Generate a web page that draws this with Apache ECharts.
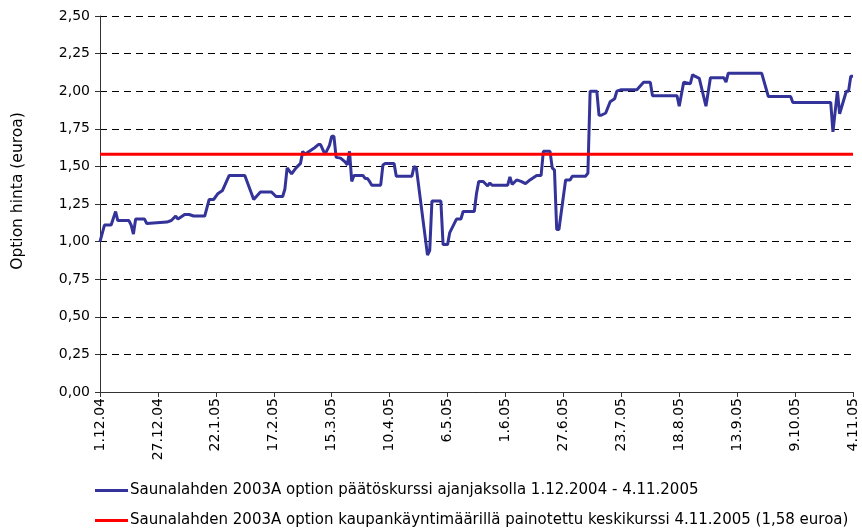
<!DOCTYPE html>
<html>
<head>
<meta charset="utf-8">
<script src="https://cdn.jsdelivr.net/npm/echarts@6/dist/echarts.min.js"></script>
<style>
html,body{margin:0;padding:0;background:#fff;}
#chart{width:862px;height:529px;}
</style>
</head>
<body>
<div id="chart"></div>
<script>
// Day index counted from 1.12.2004 (calendar days)
const tickLabels = ["1.12.04","27.12.04","22.1.05","17.2.05","15.3.05","10.4.05","6.5.05","1.6.05","27.6.05","23.7.05","18.8.05","13.9.05","9.10.05","4.11.05"];
const closeDays = [0,2,5,7,8,13,14,15,16,20,21,30,32,34,35,38,40,42,47,49,51,53,55,58,65,67,69,72,77,79,82,83,84,86,88,90,91,92,94,96,98,99,101,103,104,105,106,108,110,111,112,113,114,118,119,120,121,122,126,127,128,132,133,140,141,142,147,148,149,153,154,156,157,160,162,163,168,169,170,172,174,175,176,183,184,185,187,189,191,193,196,198,199,202,203,204,205,206,209,211,212,218,219,220,223,224,225,227,229,231,232,234,241,244,247,248,259,260,262,265,266,267,269,272,274,280,281,282,297,300,310,311,328,329,331,332,335,336,337,338];
const closePrices = [1.00,1.11,1.11,1.20,1.14,1.14,1.11,1.05,1.15,1.15,1.12,1.13,1.14,1.17,1.15,1.18,1.18,1.17,1.17,1.28,1.28,1.32,1.34,1.44,1.44,1.36,1.28,1.33,1.33,1.30,1.30,1.35,1.49,1.45,1.49,1.52,1.60,1.58,1.60,1.62,1.645,1.645,1.58,1.64,1.70,1.70,1.56,1.555,1.53,1.51,1.60,1.40,1.44,1.44,1.42,1.42,1.40,1.375,1.375,1.51,1.52,1.52,1.435,1.435,1.50,1.49,0.91,0.94,1.27,1.27,0.98,0.98,1.06,1.15,1.15,1.20,1.20,1.32,1.40,1.40,1.37,1.39,1.375,1.375,1.43,1.38,1.41,1.40,1.385,1.41,1.44,1.44,1.60,1.60,1.49,1.475,1.08,1.08,1.41,1.41,1.435,1.435,1.455,2.00,2.00,1.84,1.84,1.855,1.93,1.95,2.00,2.01,2.01,2.06,2.06,1.97,1.97,1.90,2.06,2.05,2.11,2.10,2.085,1.90,2.09,2.09,2.06,2.12,2.12,1.965,1.965,1.925,1.925,1.73,2.00,1.85,2.00,2.00,2.10,2.10];
const avgDays = [0,338];
const avgPrice = [1.58,1.58];
const seriesNames = [
  "Saunalahden 2003A option päätöskurssi ajanjaksolla 1.12.2004 - 4.11.2005",
  "Saunalahden 2003A option kaupankäyntimäärillä painotettu keskikurssi 4.11.2005 (1,58 euroa)"
];
const yAxisTitle = "Option hinta (euroa)";

const FONT = "DejaVu Sans";
const legendBase = {
  orient:'horizontal',left:95,itemWidth:33,itemHeight:3,icon:'rect',padding:0,
  textStyle:{fontSize:15,color:'#000',fontFamily:FONT,padding:[0,0,0,-3]}
};
const chart = echarts.init(document.getElementById('chart'), null, {renderer:'canvas'});
chart.setOption({
  animation:false,
  backgroundColor:'#fff',
  textStyle:{fontFamily:FONT},
  grid:{left:100,right:9,top:16,bottom:137,containLabel:false},
  xAxis:{
    type:'value',min:0,max:338,interval:26,
    axisLine:{show:true,lineStyle:{color:'#333',width:1}},
    axisTick:{show:true,length:5,lineStyle:{color:'#333'}},
    splitLine:{show:false},
    axisLabel:{rotate:90,fontSize:14,color:'#000',fontFamily:FONT,margin:6,
      formatter:function(v){return tickLabels[Math.round(v/26)];}}
  },
  yAxis:{
    type:'value',min:0,max:2.5,interval:0.25,
    name:yAxisTitle,nameLocation:'middle',nameGap:74,nameRotate:90,
    nameTextStyle:{fontSize:15.5,color:'#000',fontFamily:FONT,padding:[0,0,0,26]},
    axisLine:{show:true,lineStyle:{color:'#333',width:1}},
    axisTick:{show:true,length:5,lineStyle:{color:'#333'}},
    splitLine:{show:true,lineStyle:{color:'#000',width:1,type:[7,5]}},
    axisLabel:{fontSize:14,color:'#000',fontFamily:FONT,margin:10,
      formatter:function(v){return v.toFixed(2).replace('.',',');}}
  },
  legend:[
    Object.assign({},legendBase,{top:483,data:[seriesNames[0]]}),
    Object.assign({},legendBase,{top:513,data:[seriesNames[1]]})
  ],
  series:[
    {name:seriesNames[0],type:'line',symbol:'none',
     lineStyle:{color:'#333399',width:3},itemStyle:{color:'#333399'},
     data:closeDays.map((d,i)=>[d,closePrices[i]]),z:3},
    {name:seriesNames[1],type:'line',symbol:'none',
     lineStyle:{color:'#FF0000',width:3},itemStyle:{color:'#FF0000'},
     data:avgDays.map((d,i)=>[d,avgPrice[i]]),z:4}
  ]
});
</script>
</body>
</html>
